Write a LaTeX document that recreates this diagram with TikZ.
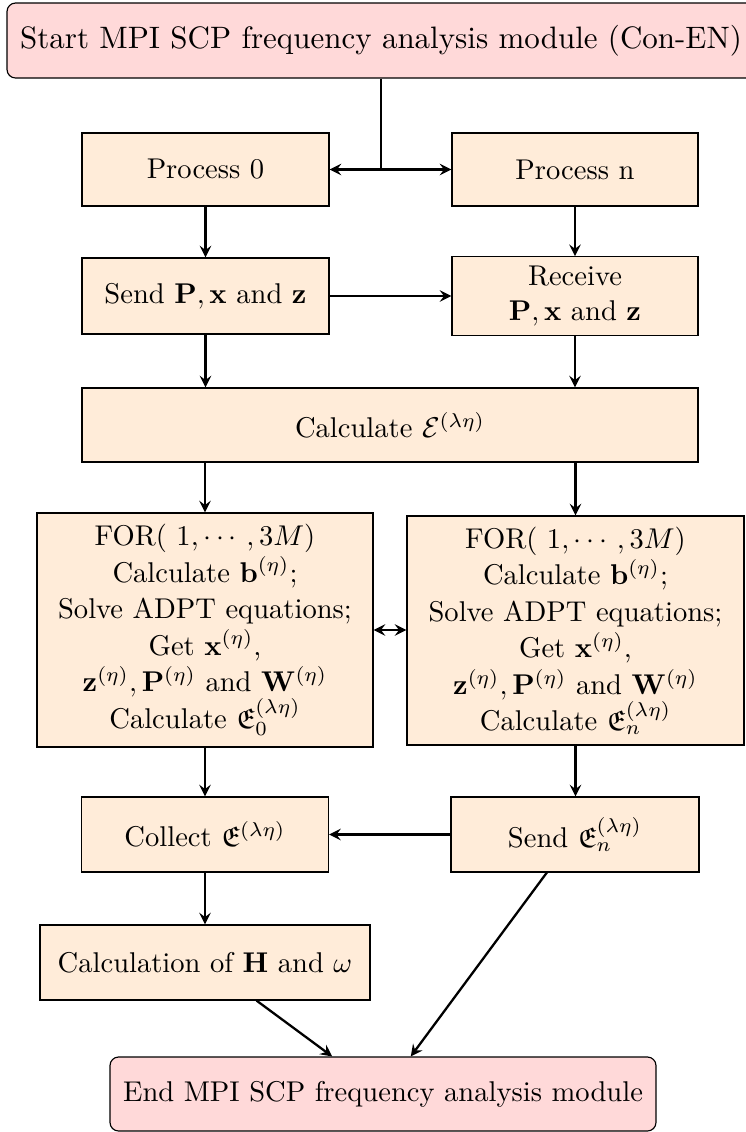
\documentclass[tikz,border=0pt]{standalone}
\usepackage{amsmath,amssymb}
\usetikzlibrary{arrows}
\begin{document}
\begin{tikzpicture}[x=0.35pt,y=-0.35pt,
  box/.style={draw, fill=orange!15, align=center},
  loopbox/.style={box, font=\fontsize{10pt}{12.8pt}\selectfont},
  term/.style={draw, fill=red!15, rounded corners=3pt, align=center},
  arr/.style={->, >=stealth, thick}]
\useasboundingbox (0,0) rectangle (746,1132);

% terminals
\node[term, minimum width=261.8pt, minimum height=26.25pt,
      font=\fontsize{10.85pt}{13pt}\selectfont] (start) at (381,40.5)
  {Start MPI SCP frequency analysis module (Con-EN)};
\node[term, minimum width=191.1pt, minimum height=25.9pt] (end) at (383,1094)
  {End MPI SCP frequency analysis module};

% process 0 column
\node[box, minimum width=86.45pt, minimum height=25.55pt] (p0) at (205.5,169.5) {Process 0};
\node[box, minimum width=86.45pt, minimum height=26.6pt] (send) at (205.5,296)
  {Send $\mathbf{P},\mathbf{x}$ and $\mathbf{z}$};
\node[loopbox, minimum width=117.6pt, minimum height=81.9pt] (for0) at (205,630)
  {FOR( $1,\cdots,3M$)\\
   Calculate $\mathbf{b}^{(\eta)}$;\\
   Solve ADPT equations;\\
   Get $\mathbf{x}^{(\eta)}$,\\
   $\mathbf{z}^{(\eta)},\mathbf{P}^{(\eta)}$ and $\mathbf{W}^{(\eta)}$\\
   Calculate $\mathfrak{E}_0^{(\lambda\eta)}$};
\node[box, minimum width=86.45pt, minimum height=26.25pt] (coll) at (205,834.5)
  {Collect $\mathfrak{E}^{(\lambda\eta)}$};
\node[box, minimum width=115.5pt, minimum height=26.25pt] (hw) at (205,962.5)
  {Calculation of $\mathbf{H}$ and $\omega$};

% process n column
\node[box, minimum width=86.1pt, minimum height=25.55pt] (pn) at (575,169.5) {Process n};
\node[box, minimum width=86.1pt, minimum height=26.6pt] (recv) at (575,296)
  {Receive\\ $\mathbf{P},\mathbf{x}$ and $\mathbf{z}$};
\node[loopbox, minimum width=117.95pt, minimum height=80.15pt] (forn) at (575.5,630.5)
  {FOR( $1,\cdots,3M$)\\
   Calculate $\mathbf{b}^{(\eta)}$;\\
   Solve ADPT equations;\\
   Get $\mathbf{x}^{(\eta)}$,\\
   $\mathbf{z}^{(\eta)},\mathbf{P}^{(\eta)}$ and $\mathbf{W}^{(\eta)}$\\
   Calculate $\mathfrak{E}_n^{(\lambda\eta)}$};
\node[box, minimum width=86.8pt, minimum height=26.25pt] (sendn) at (575,834.5)
  {Send $\mathfrak{E}_n^{(\lambda\eta)}$};

% shared step
\node[box, minimum width=215.6pt, minimum height=25.9pt] (calc) at (390,425)
  {Calculate $\mathcal{E}^{(\lambda\eta)}$};

% connectors
\coordinate (j) at (start.south |- p0.east);
\draw[thick] (start.south) -- (j);
\draw[arr] (j) -- (p0.east);
\draw[arr] (j) -- (j -| pn.west);
\draw[arr] (p0) -- (send);
\draw[arr] (pn) -- (recv);
\draw[arr] (send) -- (recv);
\draw[arr] (send) -- (send |- calc.north);
\draw[arr] (recv) -- (recv |- calc.north);
\draw[arr] (for0 |- calc.south) -- (for0.north);
\draw[arr] (forn |- calc.south) -- (forn.north);
\draw[<->, >=stealth, thick] (for0.east) -- (for0.east -| forn.west);
\draw[arr] (for0) -- (coll);
\draw[arr] (forn.south) -- (forn.south |- sendn.north);
\draw[arr] (sendn) -- (coll);
\draw[arr] (coll) -- (hw);
\draw[arr] (hw) -- (end);
\draw[arr] (sendn) -- (end);
\end{tikzpicture}
\end{document}
